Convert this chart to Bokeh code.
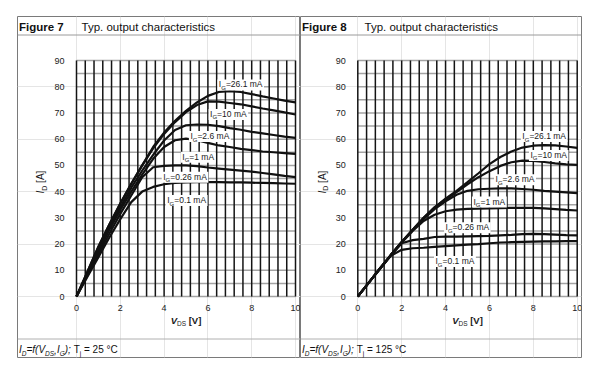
import numpy as np
from math import pi
from bokeh.plotting import figure
from bokeh.models import LinearAxis, SingleIntervalTicker, Label, Span, Range1d, BoxAnnotation
from bokeh.layouts import row
from bokeh.embed import file_html
from bokeh.resources import INLINE

# ---------------- data ----------------
vds = [0, 0.5, 1, 1.5, 2, 2.5, 3, 3.5, 4, 4.5, 5, 5.5, 6, 6.5, 7, 7.5, 8, 8.5, 9, 9.5, 10]

# Figure 7, Tj = 25 °C  (I_D in A)
id25_ig26p1 = [0, 9.5, 19, 27.5, 35.5, 43, 50, 57, 62.5, 67, 70.8, 74, 76.5, 78, 78.3, 78, 77.2, 76.3, 75.5, 74.7, 74]
id25_ig10 = [0, 9.5, 19, 27.5, 35.5, 43, 50, 56.5, 62, 66.5, 70.3, 73, 74.4, 74.3, 73.8, 73.3, 72.5, 71.7, 71, 70.2, 69.4]
id25_ig2p6 = [0, 9, 18, 26.5, 34, 41.5, 48, 54, 59.5, 63.5, 65.3, 65.6, 65.5, 65, 64.2, 63.6, 62.8, 62.2, 61.6, 61, 60.5]
id25_ig1 = [0, 8.5, 17, 25.5, 33, 40, 46.5, 52.5, 57, 59.6, 60.2, 59.6, 58.6, 57.6, 57, 56.3, 55.8, 55.3, 55, 54.7, 54.4]
id25_ig0p26 = [0, 8, 16, 24, 31.5, 38.5, 45.5, 49.3, 49.8, 50, 50, 49.7, 49.2, 48.8, 48.4, 48, 47.6, 47.1, 46.6, 46, 45.5]
id25_ig0p1 = [0, 7.5, 15, 22.5, 29.5, 36, 40, 41.8, 42.8, 43.3, 43.5, 43.6, 43.6, 43.6, 43.5, 43.5, 43.4, 43.3, 43.2, 43.1, 43]

# Figure 8, Tj = 125 °C
id125_ig26p1 = [0, 5.3, 10.6, 15.8, 20.8, 25.5, 30, 34, 37.3, 40.3, 43.6, 47, 50.5, 53.2, 55.3, 56.8, 57.5, 57.7, 57.6, 57.2, 56.7]
id125_ig10 = [0, 5.3, 10.6, 15.8, 20.8, 25.5, 30, 34, 37, 39.8, 42.8, 45.5, 47.8, 49.8, 51.2, 51.8, 51.7, 51.3, 50.8, 50.4, 50.2]
id125_ig2p6 = [0, 5.3, 10.6, 15.8, 20.7, 25.3, 29.6, 33.3, 36.3, 38.8, 40.3, 40.9, 41.1, 41.2, 41.2, 41, 40.7, 40.3, 40, 39.7, 39.4]
id125_ig1 = [0, 5.3, 10.6, 15.7, 20.5, 25, 28.8, 31.2, 32.5, 33.1, 33.4, 33.5, 33.6, 33.7, 33.8, 33.8, 33.8, 33.6, 33.3, 33, 32.8]
id125_ig0p26 = [0, 5.3, 10.5, 15.5, 20.3, 21.5, 22, 22.7, 22.8, 22.8, 22.9, 23, 23.1, 23.3, 23.5, 23.8, 23.9, 23.8, 23.6, 23.4, 23.3]
id125_ig0p1 = [0, 5.2, 10.4, 15.5, 17.8, 18.4, 18.6, 18.9, 19.2, 19.5, 19.8, 20, 20.3, 20.6, 20.7, 20.8, 20.9, 21, 21, 21.1, 21.1]

ig_labels = ["26.1", "10", "2.6", "1", "0.26", "0.1"]
x_max, y_max = 10, 90
x_tick_step, y_tick_step = 2, 10
x_grid_step, y_grid_step = 0.4, 5

# ---------------- layout / style ----------------
FONT = "Liberation Sans"
INK = "#1a1a1a"
Y0_PX, Y90_PX = 296.0, 60.0          # page pixels of I_D = 0 and 90
SY = (Y0_PX - Y90_PX) / y_max
TOP_PX, BOT_PX = 16.0, 357.0          # panel box top / bottom (page px)
BASE_CORR = 0.42                      # empirical baseline correction (fraction of font size)

REG = {' ': 278, '.': 278, ',': 278, ';': 278, '=': 584, '(': 333, ')': 333, '[': 278, ']': 278,
       '°': 400, 'A': 667, 'C': 722, 'D': 722, 'F': 611, 'G': 778, 'I': 278, 'S': 667, 'T': 611,
       'V': 667, 'a': 556, 'c': 500, 'e': 556, 'f': 278, 'g': 556, 'h': 556, 'i': 222, 'j': 222,
       'm': 833, 'o': 556, 'p': 556, 'r': 333, 's': 500, 't': 278, 'u': 556, 'y': 500}
for d in "0123456789":
    REG[d] = 556
BOLD = {'[': 333, ']': 333, 'V': 667, 'A': 722, 'i': 278, 'g': 611, 'u': 611, 'r': 389}


def tw(s, size, bold=False):
    return sum((BOLD.get(c) if bold and c in BOLD else REG.get(c, 556)) for c in s) * size / 1000.0


def yd(py):
    return (Y0_PX - py) / SY


def make_panel(fig_no, tj, curves, label_xy, frame_l, frame_r, ax0_px, ax10_px, mb_left, mb_right):
    sx = (ax10_px - ax0_px) / x_max

    def xd(px):
        return (px - ax0_px) / sx

    p = figure(frame_width=int(round(frame_r - frame_l)), frame_height=int(round(BOT_PX - TOP_PX)),
               min_border_left=mb_left, min_border_right=mb_right, min_border_top=int(TOP_PX),
               min_border_bottom=6,
               x_range=Range1d(xd(frame_l), xd(frame_r)), y_range=Range1d(yd(BOT_PX), yd(TOP_PX)),
               x_axis_location=None, y_axis_location=None, title=None,
               output_backend="svg", toolbar_location=None, tools="")
    p.outline_line_color = "#7a7a7a"
    p.outline_line_width = 1
    p.background_fill_color = "white"
    p.border_fill_color = "white"

    def put(x, y, text, size, style="normal", angle=0.0, color=INK):
        corr = BASE_CORR * size
        if angle == 0:
            y = y + corr / SY
        else:
            x = x - corr / sx
        p.add_layout(Label(x=x, y=y, text=text, text_font=FONT, text_font_size=f"{size}px",
                           text_font_style=style, text_color=color, text_align="left",
                           text_baseline="alphabetic", angle=angle))

    def rich_width(pieces):
        return sum(tw(t, s, "bold" in st) for t, s, st, _ in pieces)

    def rich(x, y, pieces, angle=0.0, color=INK):
        off = 0.0
        for text, size, style, drop in pieces:
            bold = "bold" in style
            t = text.lstrip(" ")
            off += tw(text[:len(text) - len(t)], size, bold)
            if angle == 0:
                lx, ly = x + off / sx, y - drop / SY
            else:
                lx, ly = x + drop / sx, y + off / SY
            put(lx, ly, t, size, style, angle, color)
            off += tw(t, size, bold)

    # grid (gray horizontals every 5 A, black verticals every 0.4 V)
    gy = np.arange(0, y_max + 1e-9, y_grid_step)
    p.segment(x0=0, y0=gy, x1=x_max, y1=gy, line_color="#a3a3a3", line_width=1.5)
    gx = np.arange(0, x_max + 1e-9, x_grid_step)
    p.segment(x0=gx, y0=0, x1=gx, y1=y_max, line_color="#141414", line_width=1.5)

    # axes (tick labels only)
    common = dict(axis_line_color=None, major_tick_line_color=None, minor_tick_line_color=None,
                  major_tick_in=0, major_tick_out=0, major_label_text_font=FONT,
                  major_label_text_font_size="9px", major_label_text_color="#222222")
    xax = LinearAxis(fixed_location=0, bounds=(0, x_max), ticker=SingleIntervalTicker(interval=x_tick_step),
                     major_label_standoff=4, **common)
    p.add_layout(xax, "below")
    yax = LinearAxis(fixed_location=0, bounds=(0, y_max), ticker=SingleIntervalTicker(interval=y_tick_step),
                     major_label_standoff=8, **common)
    p.add_layout(yax, "left")

    # curves
    for ys in curves:
        p.line(vds, ys, line_color="#111111", line_width=2.2)

    # curve labels with white boxes
    for name, (lx, lyc) in zip(ig_labels, label_xy):
        pieces = [("I", 8.5, "normal", 0), ("G", 6, "normal", 2.5), ("=" + name + " mA", 8.5, "normal", 0)]
        w = rich_width(pieces)
        p.add_layout(BoxAnnotation(left=lx - 1.5 / sx, right=lx + (w + 1.5) / sx,
                                   bottom=lyc - 5.5 / SY, top=lyc + 5.5 / SY,
                                   fill_color="white", fill_alpha=1.0, line_color=None))
        rich(lx, lyc - 3.0 / SY, pieces)

    # header / footer separators
    p.add_layout(Span(location=yd(34.5), dimension="width", line_color="#9a9a9a", line_width=1))
    p.add_layout(Span(location=yd(338.5), dimension="width", line_color="#b0b0b0", line_width=1))

    # header
    put(xd(frame_l + 1.5), yd(31.7), f"Figure {fig_no}", 11.5, "bold", color="#111111")
    put(xd(frame_l + 64), yd(31.7), "Typ. output characteristics", 11.5, "normal", color="#111111")

    # footer
    foot = [("I", 10, "italic", 0), ("D", 6.5, "italic", 2.5), ("=f(", 10, "italic", 0),
            ("V", 10, "italic", 0), ("DS", 6.5, "italic", 2.5), (",", 10, "italic", 0),
            ("I", 10, "italic", 0), ("G", 6.5, "italic", 2.5), (");", 10, "italic", 0),
            (" T", 10, "normal", 0), ("j", 6.5, "normal", 2.5), (f" = {tj} °C", 10, "normal", 0)]
    rich(xd(frame_l + 1.5), yd(353.5), foot, color="#111111")

    # x axis title: V_DS [V]
    xt = [("V", 9.5, "bold italic", 0), ("DS", 6.5, "normal", 2.5), (" [V]", 9.5, "bold", 0)]
    cx = (ax0_px + ax10_px) / 2
    rich(xd(cx - rich_width(xt) / 2), yd(323.5), xt)

    # y axis title: I_D [A] (rotated)
    yt = [("I", 10, "italic", 0), ("D", 7, "normal", 2.5), (" [A]", 10, "normal", 0)]
    rich(xd(ax0_px - 31.5), yd(193), yt, angle=pi / 2)
    return p


curves25 = [id25_ig26p1, id25_ig10, id25_ig2p6, id25_ig1, id25_ig0p26, id25_ig0p1]
curves125 = [id125_ig26p1, id125_ig10, id125_ig2p6, id125_ig1, id125_ig0p26, id125_ig0p1]

lab25 = [(6.5, 80.7), (6.1, 69.4), (5.2, 61.0), (4.83, 53.1), (3.96, 45.5), (4.14, 36.6)]
lab125 = [(7.5, 61.0), (7.87, 53.8), (6.28, 44.5), (5.27, 36.0), (4.0, 26.2), (3.54, 13.3)]

p1 = make_panel(7, 25, curves25, lab25, 17.0, 300.0, 76.0, 295.0, 17, 0)
p2 = make_panel(8, 125, curves125, lab125, 300.0, 581.0, 357.3, 576.7, 0, 8)

layout = row(p1, p2)
open("out.html", "w").write(file_html(layout, INLINE))
